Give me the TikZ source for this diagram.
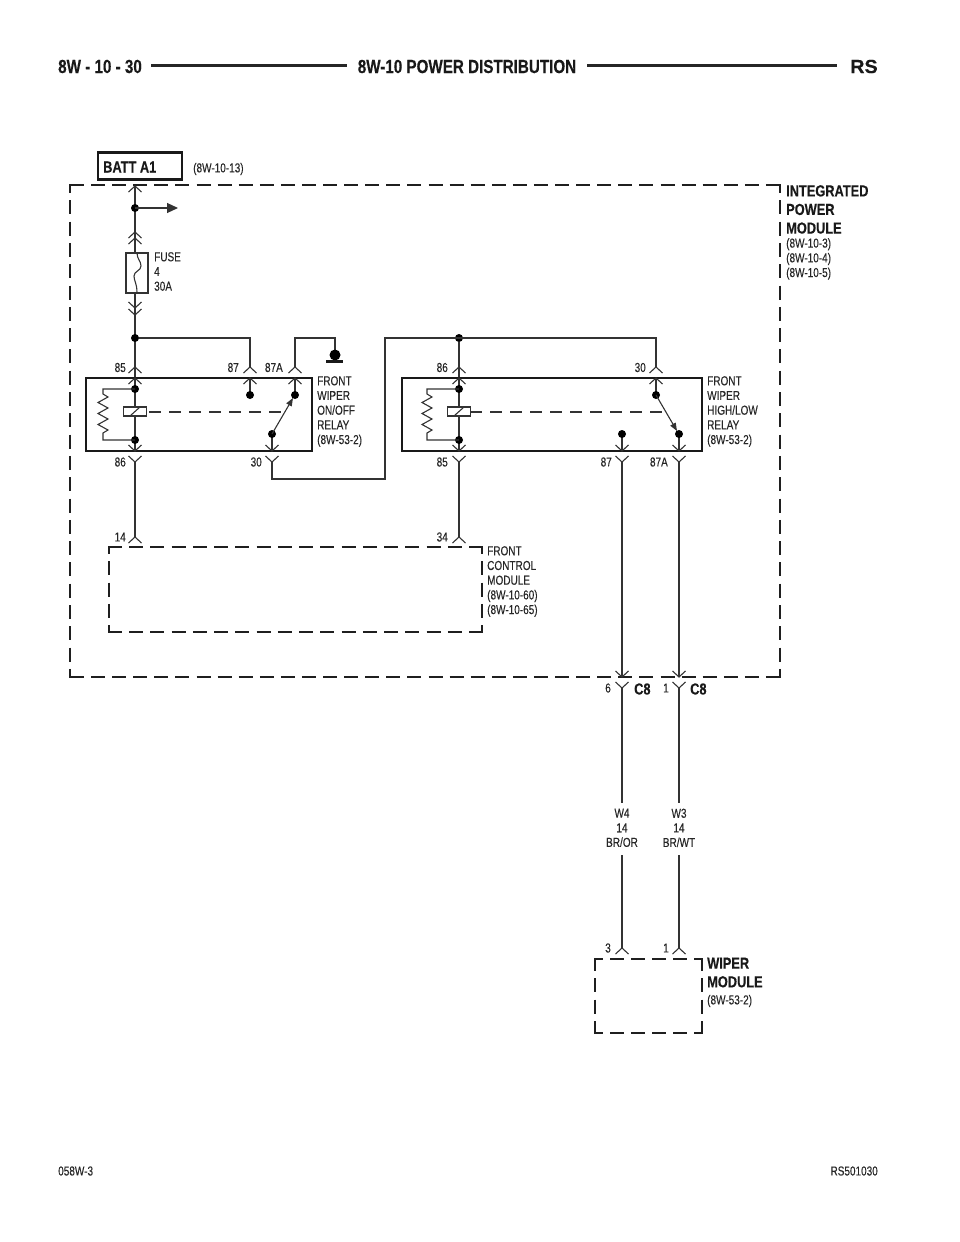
\documentclass[tikz,border=0pt]{standalone}
\usepackage{fontspec}
\setmainfont[FakeStretch=0.77,FakeBold=0.12]{Liberation Sans}
\newfontfamily\hb[FakeStretch=0.8,FakeBold=0.25]{Liberation Sans Bold}
\usetikzlibrary{arrows.meta}
\tikzset{
  wire/.style={line width=1.1pt,black!80},
  thick box/.style={line width=2.6pt,draw=black!90},
  thindash/.style={line width=1.1pt,draw=black!80,dash pattern=on 12pt off 8pt},
  chev/.style={line width=1.1pt,black!80},
  jdot/.style={circle,fill=black,inner sep=0pt,minimum size=8pt},
  lab/.style={inner sep=0pt,font=\fontsize{13}{14.7}\selectfont,black!85,align=left},
  clab/.style={inner sep=0pt,font=\fontsize{13}{14.6}\selectfont,black!85,align=center},
  blab/.style={inner sep=0pt,font=\fontsize{16}{18.6}\selectfont\hb,black!90,align=left},
  hlab/.style={inner sep=0pt,font=\fontsize{19}{20}\selectfont\hb,black!90,align=left},
}
\newcommand{\chup}[2]{\draw[chev] (#1-6.5,#2+6) -- (#1,#2) -- (#1+6.5,#2+6);}
\newcommand{\chdn}[2]{\draw[chev] (#1-6.5,#2-6) -- (#1,#2) -- (#1+6.5,#2-6);}
% side of a dashed frame: start, end, width, corner arm, gap
\newcommand{\dside}[5]{%
  \draw[line width=#3pt,black!88,dash pattern=on 14pt off #5pt,dash phase=14pt-#4pt] #1 -- #2;
  \fill[black!88] #1 ++(-#3/2,-#3/2) rectangle ++(#3,#3);
  \fill[black!88] #2 ++(-#3/2,-#3/2) rectangle ++(#3,#3);}
\newcommand{\relaycoil}[1]{%
  \draw[wire] (#1,378) -- (#1,451);
  \node[jdot] at (#1,389) {};
  \node[jdot] at (#1,440) {};
  \draw[wire,fill=white] (#1-11.5,407) rectangle (#1+11.5,416);
  \draw[wire] (#1-5,416) -- (#1+5,407);
  \draw[wire] (#1,389) -- (#1-32,389) -- (#1-32,394) -- (#1-27,397) -- (#1-37,402.5) -- (#1-27,408) -- (#1-37,413.5) -- (#1-27,419) -- (#1-37,424.5) -- (#1-27,430) -- (#1-32,433) -- (#1-32,440) -- (#1,440);
}
\begin{document}
\begin{tikzpicture}[x=1pt,y=-1pt]
\useasboundingbox (0,0) rectangle (960,1242);
% header
\node[hlab,anchor=west] (h1) at (58,66.5) {8W - 10 - 30};
\node[hlab,anchor=center] (h2) at (467,66.5) {8W-10 POWER DISTRIBUTION};
\node[hlab,anchor=west,xscale=1.3] (h3) at (850,66.5) {RS};
\draw[line width=2.4pt,black!85] (151,65.5) -- (347,65.5);
\draw[line width=2.4pt,black!85] (587,65.5) -- (837,65.5);
% batt
\node[thick box,draw,minimum width=84pt,minimum height=26.5pt,inner sep=0pt] (batt) at (140,166) {};
\node[blab,anchor=west] (battl) at (103,167) {BATT A1};
\node[lab,anchor=west] (battr) at (193,169) {(8W-10-13)};
% dashed frames
\dside{(70,185)}{(780,185)}{2.8}{14}{7.09}
\dside{(70,677)}{(780,677)}{2.8}{14}{7.09}
\dside{(70,185)}{(70,677)}{2.8}{8}{7.30}
\dside{(780,185)}{(780,677)}{2.8}{8}{7.30}
\dside{(109,547)}{(482,547)}{1.5}{13}{7.24}
\dside{(109,632)}{(482,632)}{1.5}{13}{7.24}
\dside{(109,547)}{(109,632)}{1.5}{7}{7.25}
\dside{(482,547)}{(482,632)}{1.5}{7}{7.25}
\dside{(595,959)}{(702,959)}{2.8}{8}{7}
\dside{(595,1033)}{(702,1033)}{2.8}{8}{7}
\dside{(595,959)}{(595,1033)}{2.8}{12}{7.33}
\dside{(702,959)}{(702,1033)}{2.8}{12}{7.33}
% feed
\coordinate (top) at (135,186);
\coordinate (d0) at (135,208);
\coordinate (arr) at (178,208);
\draw[wire] (top) -- (135,378);
\chup{135}{186}\chup{135}{232}\chup{135}{238}
\chdn{135}{308}\chdn{135}{315}
\node[jdot] at (d0) {};
\draw[wire,-{Triangle[length=11pt,width=10pt]}] (d0) -- (arr);
\draw[wire,fill=white] (126,253) rectangle (148,293);
\draw[wire] (137,253) .. controls (137,259) and (141,261) .. (141,266) .. controls (141,271) and (134,271) .. (134,276) .. controls (134,281) and (137,283) .. (137,293);
\node[lab,anchor=north west] (fuse) at (154,252) {FUSE\\4\\30A};
\node[jdot] (d1) at (135,338) {};
% relay 1 wiring
\draw[wire] (d1) -- (250,338) -- (250,367);
\draw[wire] (295,367) -- (295,338) -- (335,338) -- (335,355);
\node[jdot,minimum size=11pt] (gnd) at (335,355) {};
\draw[line width=2.2pt,black!90] (326,361.5) -- (343,361.5);
\node[thick box,draw,minimum width=226pt,minimum height=73pt,inner sep=0pt] (r1) at (199,414.5) {};
\relaycoil{135}
\chup{135}{367}\chup{135}{378}\chup{250}{367}\chup{250}{378}\chup{295}{367}\chup{295}{378}
\chdn{135}{451}\chdn{135}{462}\chdn{272}{451}\chdn{272}{462}
\draw[wire] (250,378) -- (250,395); \node[jdot] at (250,395) {};
\draw[wire] (295,378) -- (295,395); \node[jdot] at (295,395) {};
\draw[wire] (272,451) -- (272,434); \node[jdot] at (272,434) {};
\draw[wire,-{Triangle[length=8pt,width=6pt]}] (272,434) -- (293,398);
\draw[thindash] (149,412) -- (285,412);
\draw[wire] (135,462) -- (135,537);
\node[lab,anchor=east] at (126,367.5) {85};
\node[lab,anchor=east] at (239,367.5) {87};
\node[lab,anchor=east] at (283,367.5) {87A};
\node[lab,anchor=east] at (126,462) {86};
\node[lab,anchor=east] at (262,462) {30};
\node[lab,anchor=north west] (r1l) at (317,376) {FRONT\\WIPER\\ON/OFF\\RELAY\\(8W-53-2)};
% link wire
\node[jdot] (d2) at (459,338) {};
\draw[wire] (272,462) -- (272,479) -- (385,479) -- (385,338) -- (656,338) -- (656,367);
\draw[wire] (d2) -- (459,378);
% relay 2
\node[thick box,draw,minimum width=300pt,minimum height=73pt,inner sep=0pt] (r2) at (552,414.5) {};
\relaycoil{459}
\chup{459}{367}\chup{459}{378}\chup{656}{367}\chup{656}{378}
\chdn{459}{451}\chdn{459}{462}\chdn{622}{451}\chdn{622}{462}\chdn{679}{451}\chdn{679}{462}
\draw[wire] (656,378) -- (656,395); \node[jdot] at (656,395) {};
\draw[wire] (622,451) -- (622,434); \node[jdot] at (622,434) {};
\draw[wire] (679,451) -- (679,434); \node[jdot] at (679,434) {};
\draw[wire,-{Triangle[length=8pt,width=6pt]}] (656,395) -- (677,431);
\draw[thindash] (470,412) -- (663,412);
\draw[wire] (459,462) -- (459,537);
\node[lab,anchor=east] at (448,367.5) {86};
\node[lab,anchor=east] at (646,367.5) {30};
\node[lab,anchor=east] at (448,462) {85};
\node[lab,anchor=east] at (612,462) {87};
\node[lab,anchor=east] at (668,462) {87A};
\node[lab,anchor=north west] (r2l) at (707,376) {FRONT\\WIPER\\HIGH/LOW\\RELAY\\(8W-53-2)};
% FCM
\chup{135}{537}\chup{459}{537}
\node[lab,anchor=east] at (126,537) {14};
\node[lab,anchor=east] at (448,537) {34};
\node[lab,anchor=north west] (fcm) at (487,546) {FRONT\\CONTROL\\MODULE\\(8W-10-60)\\(8W-10-65)};
% IPM label
\node[blab,anchor=north west] (ipm) at (786,185) {INTEGRATED\\POWER\\MODULE};
\node[lab,anchor=north west] (ipmr) at (786,238) {(8W-10-3)\\(8W-10-4)\\(8W-10-5)};
% outputs
\draw[wire] (622,462) -- (622,677);
\draw[wire] (679,462) -- (679,677);
\chdn{622}{677}\chdn{622}{688}\chdn{679}{677}\chdn{679}{688}
\draw[wire] (622,688) -- (622,803);
\draw[wire] (679,688) -- (679,803);
\node[lab,anchor=east] at (611,688) {6};
\node[lab,anchor=east] at (669,688) {1};
\node[blab,anchor=west] (c8a) at (634,689) {C8};
\node[blab,anchor=west] (c8b) at (690,689) {C8};
\node[clab,anchor=north] (w4) at (622,808.5) {W4\\14\\BR/OR};
\node[clab,anchor=north] (w3) at (679,808.5) {W3\\14\\BR/WT};
\draw[wire] (622,855) -- (622,948);
\draw[wire] (679,855) -- (679,948);
\chup{622}{948}\chup{679}{948}
\node[lab,anchor=east] at (611,948) {3};
\node[lab,anchor=east] at (669,948) {1};
\node[blab,anchor=north west] (wm) at (707,957.5) {WIPER\\MODULE};
\node[lab,anchor=west] (wmr) at (707,1001) {(8W-53-2)};
% footer
\node[lab,anchor=west] (f1) at (58,1171) {058W-3};
\node[lab,anchor=east] (f2) at (878,1171) {RS501030};
\end{tikzpicture}
\end{document}
